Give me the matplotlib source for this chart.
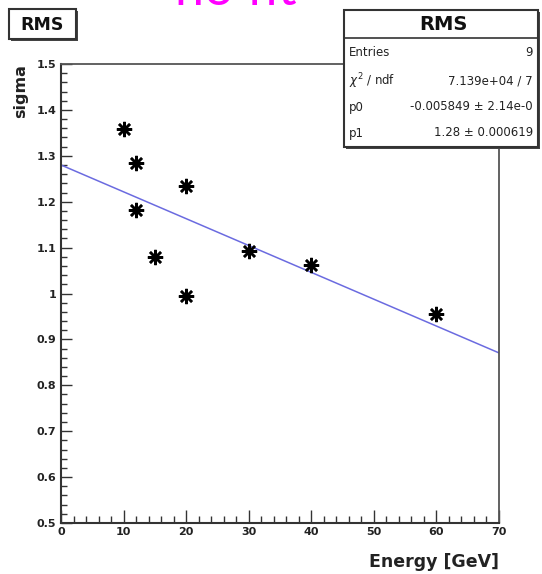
import matplotlib
matplotlib.use("Agg")
import matplotlib.pyplot as plt
from matplotlib.patches import Rectangle
from matplotlib.lines import Line2D
import numpy as np

# ---- data ----
energy = [10, 12, 12, 15, 20, 20, 30, 40, 60]
sigma = [1.358, 1.285, 1.183, 1.079, 1.235, 0.995, 1.093, 1.062, 0.955]
fit_p0 = -0.005849
fit_p1 = 1.28
fit_range = [0, 70]
stat_labels = ["Entries", r"$\chi^2$ / ndf", "p0", "p1"]
stat_values = ["9", "7.139e+04 / 7", "-0.005849 \u00b1 2.14e-0", "1.28 \u00b1 0.000619"]
title_text = "no fit"
hist_name = "RMS"
xlabel = "Energy [GeV]"
ylabel = "sigma"

W, H = 542, 574
fig = plt.figure(figsize=(W / 100, H / 100), dpi=100)
fig.patch.set_facecolor("white")

def fx(px):
    return px / W

def fy(py):
    return 1 - py / H

ax = fig.add_axes([fx(61), fy(523), fx(499) - fx(61), fy(64) - fy(523)])
ax.set_xlim(0, 70)
ax.set_ylim(0.5, 1.5)

xf = np.array(fit_range, dtype=float)
ax.plot(xf, fit_p1 + fit_p0 * xf, color="#6b6be0", lw=1.1, zorder=2)
ax.plot(energy, sigma, linestyle="none", marker=(8, 2, 0), markersize=11,
        markeredgewidth=1.8, color="black", zorder=3)

ax.set_xticks(np.arange(0, 71, 10))
ax.set_xticks(np.arange(0, 71, 2), minor=True)
ax.set_yticks(np.round(np.arange(0.5, 1.501, 0.1), 2))
ax.set_yticks(np.round(np.arange(0.5, 1.501, 0.02), 2), minor=True)
ax.set_yticklabels(["0.5", "0.6", "0.7", "0.8", "0.9", "1", "1.1", "1.2", "1.3", "1.4", "1.5"])
ax.set_xticklabels([str(v) for v in range(0, 71, 10)])

for lab in ax.get_xticklabels() + ax.get_yticklabels():
    lab.set_fontfamily("DejaVu Sans")
    lab.set_fontweight("bold")
    lab.set_fontsize(8)
    lab.set_color("#222222")

ax.tick_params(axis="x", which="major", direction="in", length=9.5, width=1.0, pad=3, color="#333333")
ax.tick_params(axis="x", which="minor", direction="in", length=5, width=1.0, color="#333333")
ax.tick_params(axis="y", which="major", direction="in", length=8, width=1.0, pad=3.5, color="#333333")
ax.tick_params(axis="y", which="minor", direction="in", length=4.5, width=1.0, color="#333333")

for side in ["left", "bottom"]:
    ax.spines[side].set_linewidth(1.5)
    ax.spines[side].set_color("#333333")
for side in ["top", "right"]:
    ax.spines[side].set_linewidth(1.3)
    ax.spines[side].set_color("#555555")

# axis labels as figure text
fig.text(fx(499), fy(567), xlabel, ha="right", va="baseline", fontsize=12.5,
         fontweight="bold", family="DejaVu Sans", color="#222222")
fig.text(fx(21), fy(64), ylabel, ha="center", va="top", rotation=90, fontsize=11.5,
         fontweight="bold", family="DejaVu Sans", color="#222222")

# title (clipped at top, as in the reference)
fig.text(fx(236), fy(5), title_text, ha="center", va="baseline", fontsize=37.5,
         family="Lato", color="#ff00ff")

# top-left name box
def box(x0, y0, x1, y1, lw=1.5):
    sh = Rectangle((fx(x0 + 2), fy(y1 + 2)), fx(x1) - fx(x0), fy(y0) - fy(y1),
                   transform=fig.transFigure, facecolor="#444444", edgecolor="none", zorder=9)
    fig.patches.append(sh)
    r = Rectangle((fx(x0), fy(y1)), fx(x1) - fx(x0), fy(y0) - fy(y1),
                  transform=fig.transFigure, facecolor="white", edgecolor="#333333",
                  linewidth=lw, zorder=10)
    fig.patches.append(r)

box(9, 9, 76, 39)
fig.text(fx(42.5), fy(24.5), hist_name, ha="center", va="center", fontsize=12.5,
         fontweight="bold", family="DejaVu Sans", color="#111111", zorder=11)

# stats box
box(344, 10, 538, 147)
fig.add_artist(Line2D([fx(344), fx(538)], [fy(38), fy(38)], transform=fig.transFigure,
                      color="#333333", lw=1.2, zorder=11))
fig.text(fx(443), fy(24), hist_name, ha="center", va="center", fontsize=14,
         fontweight="bold", family="DejaVu Sans", color="#111111", zorder=11)
row_y = [53, 81, 107, 133]
for lab, val, yy in zip(stat_labels, stat_values, row_y):
    fig.text(fx(349), fy(yy), lab, ha="left", va="center", fontsize=8.5,
             family="DejaVu Sans", color="#222222", zorder=11)
    fig.text(fx(533), fy(yy), val, ha="right", va="center", fontsize=8.5,
             family="DejaVu Sans", color="#222222", zorder=11)

fig.savefig("out.png", dpi=100, facecolor="white")
